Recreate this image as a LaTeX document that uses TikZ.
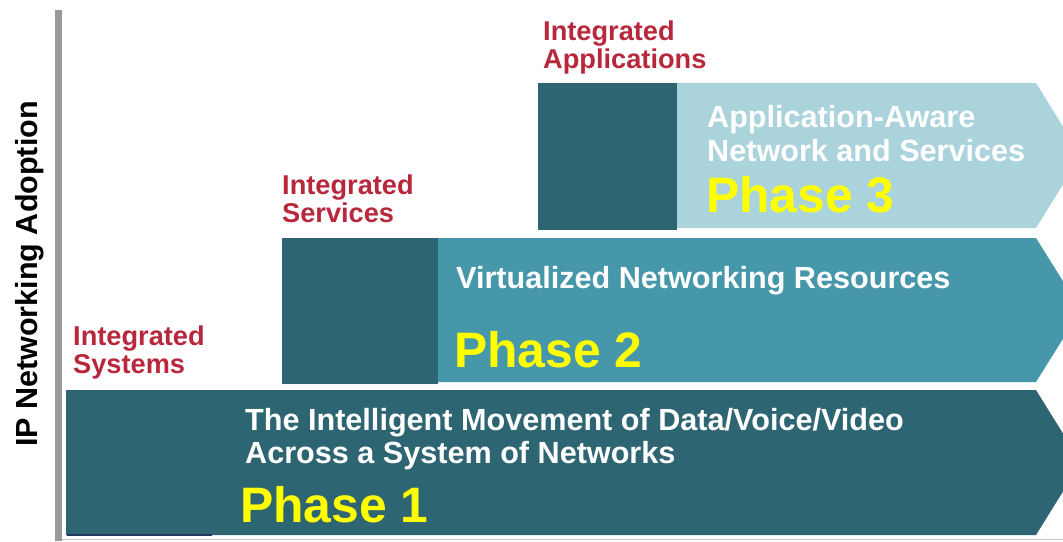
\documentclass[tikz,border=0pt]{standalone}
\usepackage{fontspec}
\setmainfont{Liberation Sans}
\definecolor{darkteal}{HTML}{2E6572}
\definecolor{midteal}{HTML}{4797AA}
\definecolor{lightteal}{HTML}{ABD3DC}
\definecolor{labelred}{HTML}{B8283C}
\definecolor{phaseyellow}{HTML}{FFFF00}
\definecolor{axisgray}{HTML}{999999}
\definecolor{navystrip}{HTML}{22365E}
\tikzset{
  redlbl/.style={anchor=base west, inner sep=0pt, text=labelred, font=\bfseries\fontsize{27.2}{29}\selectfont},
  whitelbl/.style={anchor=base west, inner sep=0pt, text=white, font=\bfseries\fontsize{30.6}{33}\selectfont},
  phaselbl/.style={anchor=base west, inner sep=0pt, text=phaseyellow, font=\bfseries\fontsize{49.8}{52}\selectfont},
  axislbl/.style={anchor=base, inner sep=0pt, text=black, rotate=90, font=\bfseries\fontsize{30.5}{33}\selectfont}
}
\begin{document}
\begin{tikzpicture}[x=1pt,y=-1pt]
\useasboundingbox (0,0) rectangle (1063,541);
\clip (0,0) rectangle (1063,541);
\fill[white] (0,0) rectangle (1063,541);
% axis
\fill[axisgray] (55,10) rectangle (62,541);
\draw[gray!45, line width=1.2pt] (62,539.5) -- (1063,539.5);
% Phase 1 arrow
\fill[darkteal] (66,390) -- (1036,390) -- (1081,462.5) -- (1036,535) -- (66,535) -- cycle;
\fill[navystrip] (67,533.5) rectangle (212,536);
% Phase 2 arrow
\fill[midteal] (438,238) -- (1036,238) -- (1081,310) -- (1036,382) -- (438,382) -- cycle;
\fill[darkteal] (282,238) rectangle (438,383.5);
% Phase 3 arrow
\fill[lightteal] (677,83) -- (1036,83) -- (1081,155.5) -- (1036,228) -- (677,228) -- cycle;
\fill[darkteal] (538,83) rectangle (677,229.5);
% axis label
\node[axislbl] (axis) at (37,274) {IP Networking Adoption};
% red labels
\node[redlbl] (sys1) at (73,345) {Integrated};
\node[redlbl] (sys2) at (73,373) {Systems};
\node[redlbl] (svc1) at (282,194) {Integrated};
\node[redlbl] (svc2) at (282,222) {Services};
\node[redlbl] (app1) at (543,40) {Integrated};
\node[redlbl] (app2) at (543,68) {Applications};
% phase 1 text
\node[whitelbl] (p1a) at (245,430) {The Intelligent Movement of Data/Voice/Video};
\node[whitelbl] (p1b) at (245,463) {Across a System of Networks};
\node[phaselbl] (p1) at (240,522) {Phase 1};
% phase 2 text
\node[whitelbl] (p2a) at (456,288) {Virtualized Networking Resources};
\node[phaselbl] (p2) at (454,367) {Phase 2};
% phase 3 text
\node[whitelbl] (p3a) at (707,127) {Application-Aware};
\node[whitelbl] (p3b) at (707,161) {Network and Services};
\node[phaselbl] (p3) at (706,212) {Phase 3};
\end{tikzpicture}
\end{document}
